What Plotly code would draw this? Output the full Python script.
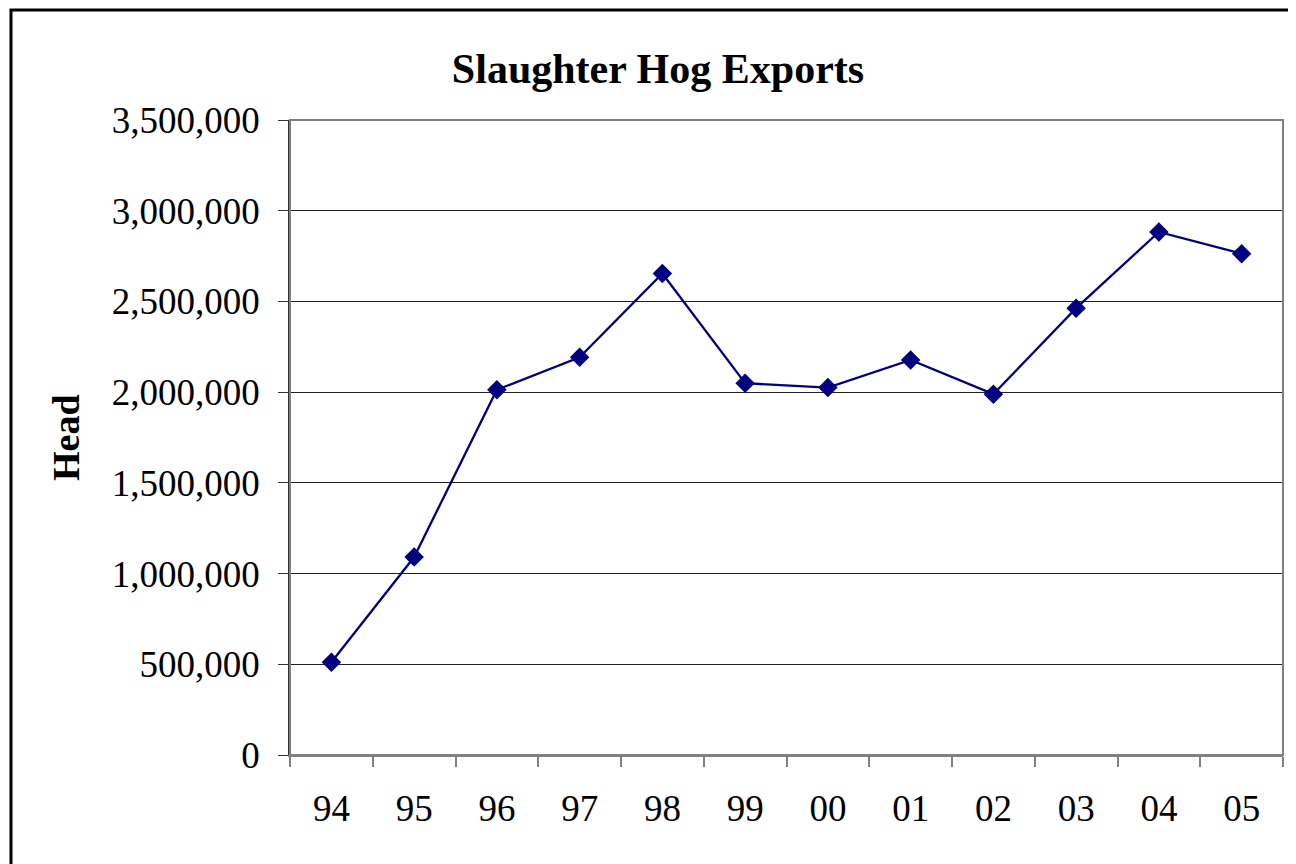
import plotly.graph_objects as go

years = ["94", "95", "96", "97", "98", "99", "00", "01", "02", "03", "04", "05"]
head = [511000, 1091000, 2013000, 2192000, 2654000, 2049000, 2025000, 2177000, 1989000, 2463000, 2883000, 2763000]
y_ticks = [0, 500000, 1000000, 1500000, 2000000, 2500000, 3000000, 3500000]
y_tick_text = ["0", "500,000", "1,000,000", "1,500,000", "2,000,000", "2,500,000", "3,000,000", "3,500,000"]

FONT = "Liberation Serif, Times New Roman, serif"
OFF = 8  # page body margin
W, H = 1296 - OFF, 864 - OFF
# plot area in page pixels
PL, PR, PT, PB = 290, 1283, 120, 755
L, R, T, B = PL - OFF, PR - OFF, PT - OFF, PB - OFF

def px2x(px):
    return (px - PL) / (PR - PL)

def py2y(py):
    return (PB - py) / (PB - PT)

fig = go.Figure()
fig.add_trace(go.Scatter(
    x=years, y=head, mode="lines+markers",
    line=dict(color="#000080", width=2.3),
    marker=dict(symbol="diamond", size=15, color="#000080"),
    showlegend=False, cliponaxis=False,
))

fig.update_layout(
    width=W, height=H,
    margin=dict(l=L, r=W - R, t=T, b=H - B, pad=0),
    paper_bgcolor="white", plot_bgcolor="white",
    font=dict(family=FONT, color="black"),
    title=dict(text="<b>Slaughter Hog Exports</b>", font=dict(size=42, family=FONT, color="black"),
               xref="container", yref="container", x=(658 - OFF) / W, y=1 - (68 - OFF) / H,
               xanchor="center", yanchor="middle"),
    xaxis=dict(
        type="category", tickson="boundaries", ticks="outside", ticklen=10, tickwidth=1.5,
        tickcolor="#808080", showline=True, linecolor="#808080", linewidth=2,
        showgrid=False, tickfont=dict(size=37, family=FONT, color="black"),
        range=[-0.5, len(years) - 0.5], zeroline=False, ticklabelstandoff=20,
    ),
    yaxis=dict(
        range=[0, 3500000], tickvals=y_ticks, ticktext=y_tick_text,
        ticks="outside", ticklen=10, tickwidth=1, tickcolor="#333333",
        showline=True, linecolor="#333333", linewidth=1.5,
        showgrid=True, gridcolor="#222222", gridwidth=1, zeroline=False,
        tickfont=dict(size=37, family=FONT, color="black"), ticklabelstandoff=11,
    ),
    shapes=[
        dict(type="rect", xref="paper", yref="paper", x0=0, x1=1, y0=0, y1=1,
             line=dict(color="#808080", width=2), layer="above"),
        dict(type="rect", xref="paper", yref="paper",
             x0=px2x(11), x1=px2x(1310), y0=py2y(10), y1=py2y(880),
             line=dict(color="black", width=3), layer="above"),
    ],
    annotations=[
        dict(text="<b>Head</b>", xref="paper", yref="paper", x=px2x(66), y=py2y(438),
             xanchor="center", yanchor="middle", textangle=-90, showarrow=False,
             font=dict(size=38, family=FONT, color="black")),
    ],
)

fig.write_html("out.html")
